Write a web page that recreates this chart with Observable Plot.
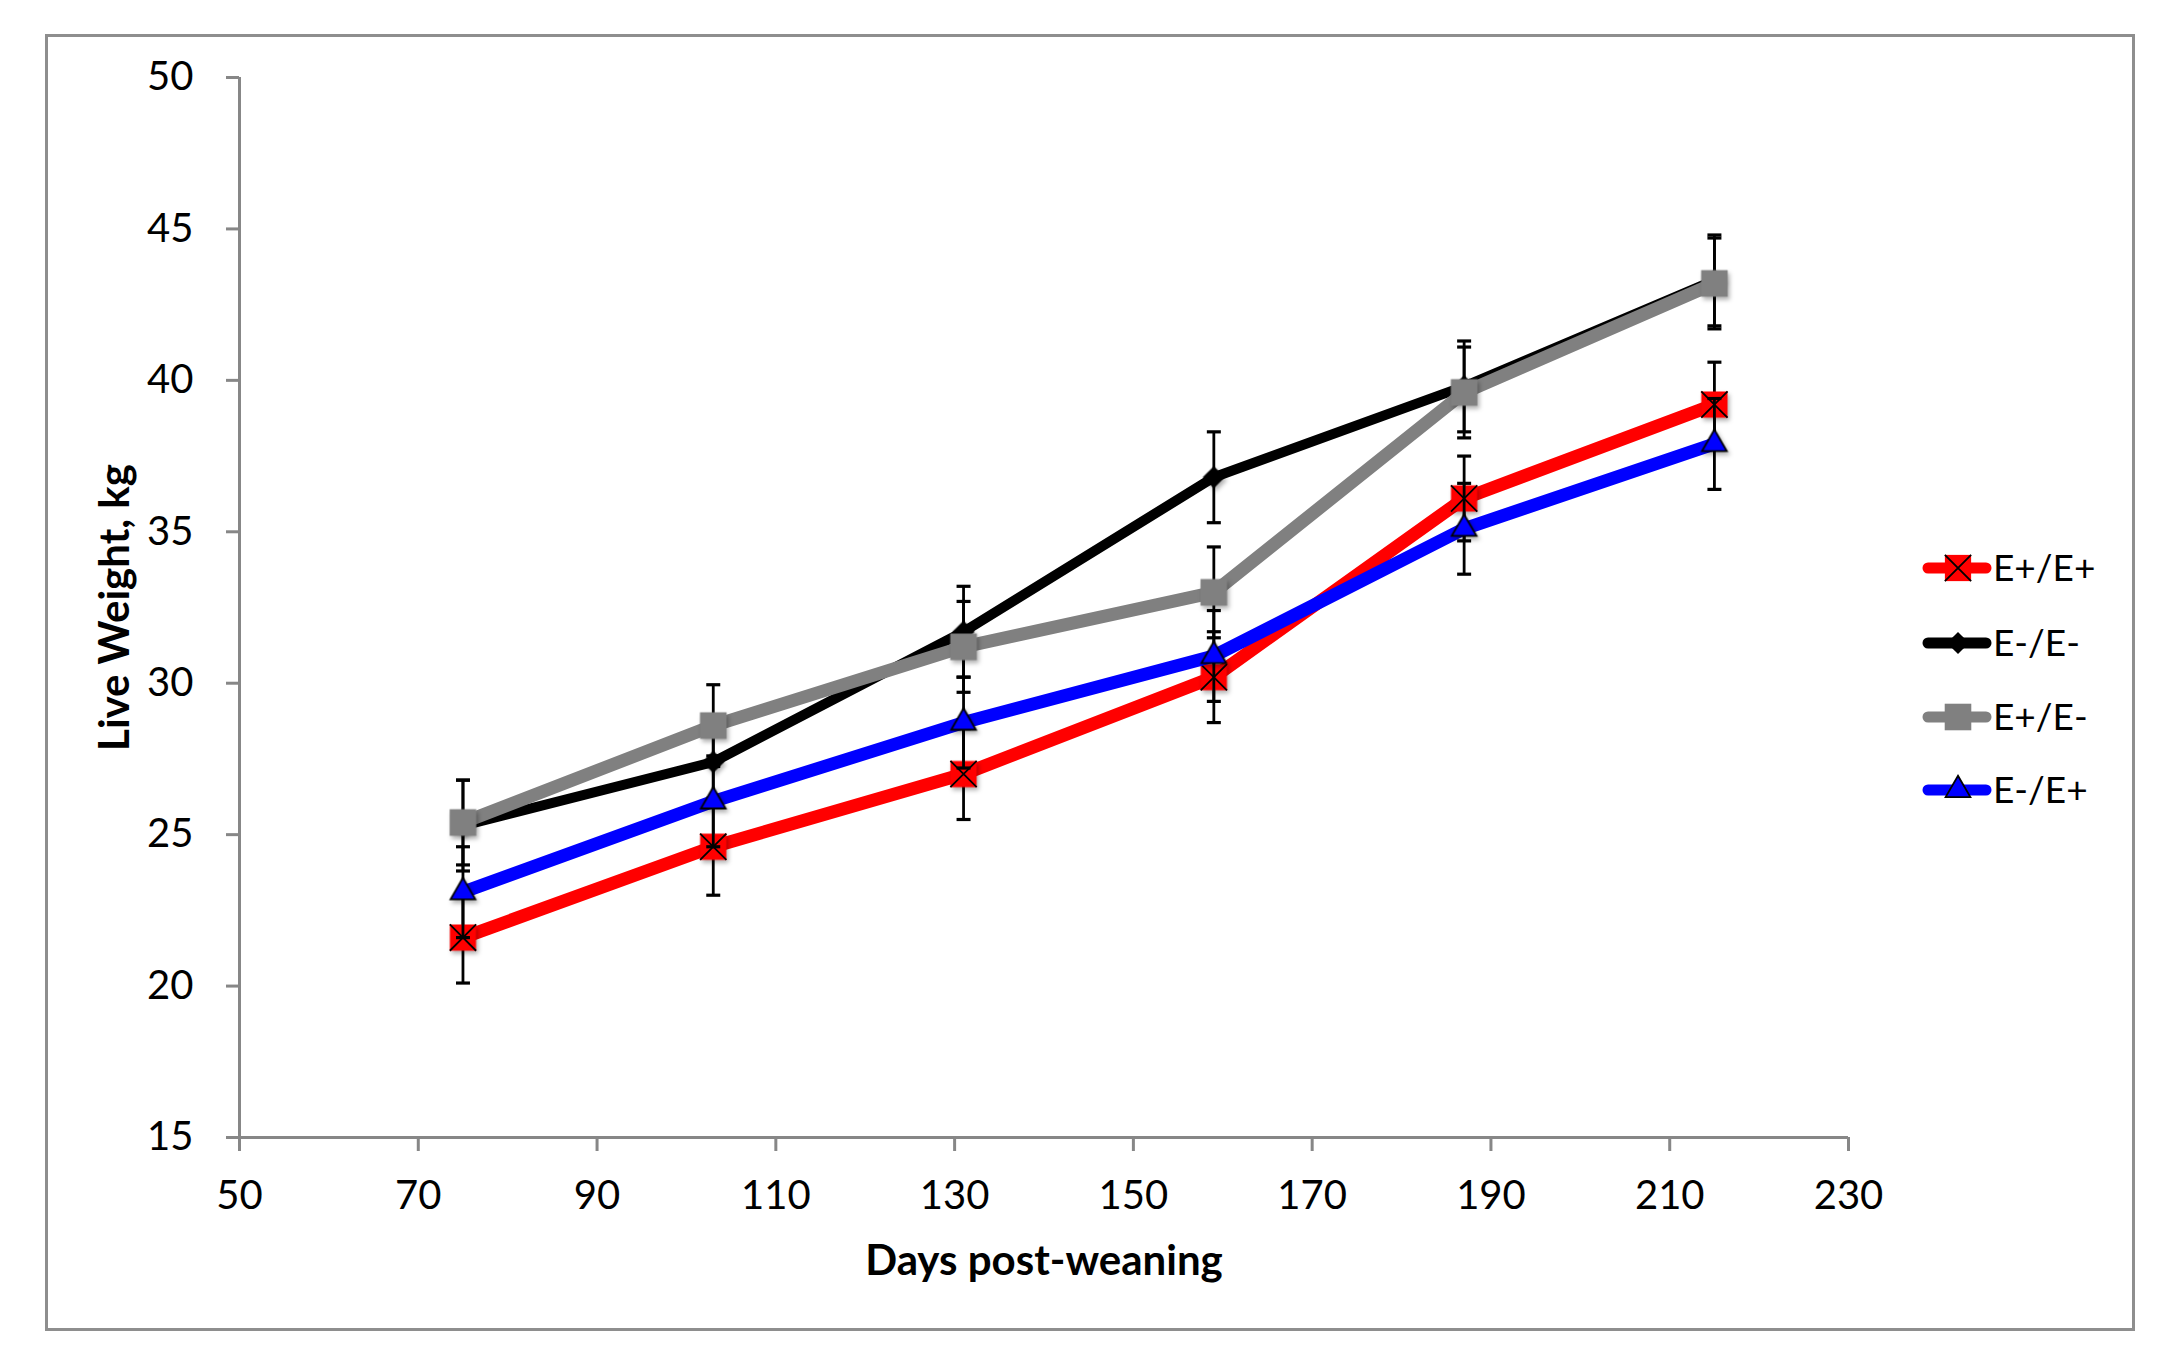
<!DOCTYPE html>
<html>
<head>
<meta charset="utf-8">
<script src="https://cdn.jsdelivr.net/npm/d3@7"></script>
<script src="https://cdn.jsdelivr.net/npm/@observablehq/plot@0.6"></script>
<style>
  html, body { margin: 0; padding: 0; background: #fff; }
  #chart { position: relative; width: 2182px; height: 1369px; }
  #chart svg { position: absolute; left: 0; top: 0; }
  /* Excel-style chart-area border */
  #frame {
    position: absolute; left: 45px; top: 34px; width: 2084px; height: 1291px;
    border: 3px solid #8e8e8e; pointer-events: none;
  }
</style>
</head>
<body>
<div id="chart"><div id="frame"></div></div>
<script>
// Live weight by genotype, days post-weaning (mean ± SE).
const days = [75, 103, 131, 159, 187, 215];
const groups = ["E+/E+", "E-/E-", "E+/E-", "E-/E+"];

const wtEpEp = [21.6, 24.6, 27.0, 30.2, 36.1, 39.2];
const seEpEp = [1.5, 1.6, 1.5, 1.5, 1.4, 1.4];
const wtEmEm = [25.3, 27.4, 31.7, 36.8, 39.8, 43.3];
const seEmEm = [1.5, 1.5, 1.5, 1.5, 1.5, 1.5];
const wtEpEm = [25.4, 28.6, 31.2, 33.0, 39.6, 43.2];
const seEpEm = [1.4, 1.35, 1.5, 1.5, 1.5, 1.5];
const wtEmEp = [23.1, 26.1, 28.7, 30.9, 35.1, 37.9];
const seEmEp = [1.5, 1.5, 1.5, 1.5, 1.5, 1.5];

const xTicks = [50, 70, 90, 110, 130, 150, 170, 190, 210, 230];
const yTicks = [15, 20, 25, 30, 35, 40, 45, 50];

// Per-series look, in Excel's series (drawing) order.
const series = [
  { name: groups[0], wt: wtEpEp, se: seEpEp, color: "#ff0000", width: 13, symbol: "square", r: 14.8, outline: "none" },
  { name: groups[1], wt: wtEmEm, se: seEmEm, color: "#000000", width: 10, symbol: "diamond2", r: 10, outline: "none" },
  { name: groups[2], wt: wtEpEm, se: seEpEm, color: "#808080", width: 13, symbol: "square", r: 15, outline: "none" },
  { name: groups[3], wt: wtEmEp, se: seEmEp, color: "#0000ff", width: 13, symbol: "triangle", r: 9.2, outline: "#000" },
];

// Horizontal error-bar cap as a custom symbol (fixed pixel width).
const capSymbol = {
  draw(ctx) { ctx.moveTo(-7, 0); ctx.lineTo(7, 0); }
};

const axisGrey = "#878787";
const font = "Lato, 'Open Sans', sans-serif";

const marks = [
  Plot.ruleX([50], { y1: 15, y2: 50, stroke: axisGrey, strokeWidth: 3 }),
  Plot.ruleY([15], { x1: 50, x2: 230, stroke: axisGrey, strokeWidth: 3 }),
  Plot.axisY(yTicks, {
    tickSize: 13, tickPadding: 33, stroke: axisGrey, strokeWidth: 3,
    fill: "#000", fontSize: 40, label: null,
  }),
  Plot.axisX(xTicks, {
    tickSize: 14, tickPadding: 29, stroke: axisGrey, strokeWidth: 3,
    fill: "#000", fontSize: 40, label: null,
  }),
  Plot.text(["Days post-weaning"], {
    frameAnchor: "bottom", dy: 124, lineAnchor: "middle", textAnchor: "middle",
    fontSize: 42, fontWeight: "bold", fill: "#000",
  }),
  Plot.text(["Live Weight, kg"], {
    frameAnchor: "left", dx: -124, rotate: -90, lineAnchor: "middle", textAnchor: "middle",
    fontSize: 42, fontWeight: "bold", fill: "#000",
  }),
];

series.forEach(function (s) {
  const rows = days.map(function (d, i) {
    return { day: d, wt: s.wt[i], se: s.se[i] };
  });
  marks.push(
    Plot.line(rows, {
      x: "day", y: "wt", stroke: s.color, strokeWidth: s.width,
      strokeLinejoin: "round", strokeLinecap: "round",
    }),
    Plot.ruleX(rows, {
      x: "day", y1: function (d) { return d.wt - d.se; }, y2: function (d) { return d.wt + d.se; },
      stroke: "#000", strokeWidth: 2.8,
    }),
    Plot.dot(rows, {
      x: "day", y: function (d) { return d.wt - d.se; },
      symbol: capSymbol, r: 5, fill: "none", stroke: "#000", strokeWidth: 3.2,
    }),
    Plot.dot(rows, {
      x: "day", y: function (d) { return d.wt + d.se; },
      symbol: capSymbol, r: 5, fill: "none", stroke: "#000", strokeWidth: 3.2,
    }),
    Plot.dot(rows, {
      x: "day", y: "wt", symbol: s.symbol, r: s.r, fill: s.color,
      stroke: s.outline, strokeWidth: 1.8, ariaDescription: "markers",
    })
  );
  if (s.name === "E+/E+") {
    marks.push(Plot.dot(rows, {
      x: "day", y: "wt", symbol: "times", r: 12, stroke: "#000", strokeWidth: 1.8,
    }));
  }
});

const svg = Plot.plot({
  width: 2182,
  height: 1369,
  marginLeft: 239,
  marginRight: 334,
  marginTop: 77,
  marginBottom: 232,
  style: { background: "transparent", fontFamily: font, fontSize: "40px", color: "#000", overflow: "visible" },
  x: { type: "linear", domain: [50, 230] },
  y: { type: "linear", domain: [15, 50] },
  marks: marks,
});

// Soft drop shadow on the data markers, as Excel for Mac renders them.
d3.select(svg).selectAll('g[aria-description="markers"]')
  .style("filter", "drop-shadow(2px 3px 2px rgba(0,0,0,0.3))");

// ---- Legend (line + marker swatches) on the right ----
const legendRowY = [568, 643, 717, 790];
const lg = d3.select(svg).append("g").attr("aria-label", "legend");
series.forEach(function (s, i) {
  const row = lg.append("g").attr("transform", "translate(0," + legendRowY[i] + ")");
  row.append("line")
    .attr("x1", 1928).attr("x2", 1986).attr("y1", 0).attr("y2", 0)
    .attr("stroke", s.color).attr("stroke-width", 11)
    .attr("stroke-linecap", "round");
  const sym = { square: d3.symbolSquare, diamond2: d3.symbolDiamond2, triangle: d3.symbolTriangle }[s.symbol];
  row.append("path")
    .attr("transform", "translate(1958,0)")
    .attr("d", d3.symbol(sym, Math.PI * s.r * s.r)())
    .attr("fill", s.color)
    .attr("stroke", s.outline === "none" ? null : s.outline)
    .attr("stroke-width", 1.8);
  if (s.name === "E+/E+") {
    row.append("path")
      .attr("transform", "translate(1958,0)")
      .attr("d", d3.symbol(d3.symbolTimes, Math.PI * 12 * 12)())
      .attr("fill", "none").attr("stroke", "#000").attr("stroke-width", 1.8);
  }
  row.append("text")
    .attr("x", 1993).attr("y", 0).attr("dy", "0.36em")
    .attr("text-anchor", "start")
    .attr("font-family", font).attr("font-size", 37).attr("fill", "#000")
    .text(s.name);
});

document.getElementById("chart").appendChild(svg);
</script>
</body>
</html>
